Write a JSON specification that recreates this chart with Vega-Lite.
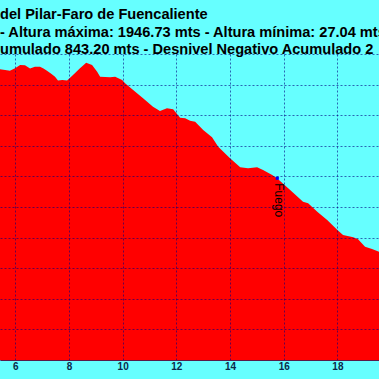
{
  "$schema": "https://vega.github.io/schema/vega-lite/v6.json",
  "width": 379,
  "height": 306,
  "autosize": {"type": "none"},
  "padding": {"left": 0, "top": 54, "right": 0, "bottom": 19},
  "background": "#66ffff",
  "config": {"view": {"stroke": null, "fill": "#66ffff"}},
  "title": {
    "text": ["\u00a0del Pilar-Faro de Fuencaliente", "- Altura máxima: 1946.73 mts - Altura mínima: 27.04 mts", "umulado 843.20 mts - Desnivel Negativo Acumulado 2"],
    "anchor": "start",
    "align": "left",
    "frame": "group",
    "font": "Liberation Sans",
    "fontSize": 14.6,
    "fontWeight": "bold",
    "color": "#000000",
    "lineHeight": 17.5,
    "offset": -3
  },
  "datasets": {
    "profile": [
      {"km": 5.3, "elev": 1895},
      {"km": 5.43, "elev": 1900},
      {"km": 5.62, "elev": 1896},
      {"km": 5.8, "elev": 1891},
      {"km": 5.99, "elev": 1907},
      {"km": 6.18, "elev": 1928},
      {"km": 6.36, "elev": 1926},
      {"km": 6.55, "elev": 1905},
      {"km": 6.73, "elev": 1917},
      {"km": 6.92, "elev": 1917},
      {"km": 7.05, "elev": 1905},
      {"km": 7.18, "elev": 1891},
      {"km": 7.35, "elev": 1870},
      {"km": 7.48, "elev": 1852},
      {"km": 7.59, "elev": 1826},
      {"km": 7.75, "elev": 1830},
      {"km": 7.93, "elev": 1826},
      {"km": 8.15, "elev": 1863},
      {"km": 8.41, "elev": 1907},
      {"km": 8.64, "elev": 1943},
      {"km": 8.86, "elev": 1928},
      {"km": 9.05, "elev": 1884},
      {"km": 9.16, "elev": 1852},
      {"km": 9.35, "elev": 1850},
      {"km": 9.53, "elev": 1848},
      {"km": 9.72, "elev": 1852},
      {"km": 9.98, "elev": 1830},
      {"km": 10.09, "elev": 1809},
      {"km": 10.39, "elev": 1765},
      {"km": 10.76, "elev": 1710},
      {"km": 11.13, "elev": 1656},
      {"km": 11.39, "elev": 1627},
      {"km": 11.65, "elev": 1645},
      {"km": 11.88, "elev": 1639},
      {"km": 12.14, "elev": 1584},
      {"km": 12.33, "elev": 1580},
      {"km": 12.51, "elev": 1564},
      {"km": 12.7, "elev": 1558},
      {"km": 13.0, "elev": 1503},
      {"km": 13.33, "elev": 1456},
      {"km": 13.56, "elev": 1394},
      {"km": 14.0, "elev": 1318},
      {"km": 14.38, "elev": 1260},
      {"km": 14.67, "elev": 1253},
      {"km": 15.01, "elev": 1260},
      {"km": 15.23, "elev": 1242},
      {"km": 15.57, "elev": 1209},
      {"km": 15.75, "elev": 1188},
      {"km": 16.24, "elev": 1111},
      {"km": 16.72, "elev": 1035},
      {"km": 16.91, "elev": 1024},
      {"km": 17.25, "elev": 969},
      {"km": 17.62, "elev": 915},
      {"km": 18.0, "elev": 850},
      {"km": 18.21, "elev": 817},
      {"km": 18.59, "elev": 802},
      {"km": 18.77, "elev": 789},
      {"km": 19.03, "elev": 741},
      {"km": 19.29, "elev": 725},
      {"km": 19.55, "elev": 708},
      {"km": 19.7, "elev": 700}
    ],
    "waypoints": [
      {"km": 15.76, "elev": 1188, "name": "Fuego"}
    ]
  },
  "layer": [
    {
      "data": {"name": "profile"},
      "mark": {"type": "area", "color": "#ff0000", "clip": true, "interpolate": "linear"},
      "encoding": {
        "x": {
          "field": "km",
          "type": "quantitative",
          "scale": {"domain": [5.43, 19.55], "nice": false, "zero": false},
          "axis": {
            "values": [4, 6, 8, 10, 12, 14, 16, 18, 20],
            "tickCount": 30,
            "format": "d",
            "title": null,
            "grid": true,
            "gridColor": "#000080",
            "gridOpacity": 0.6,
            "gridDash": [2, 2],
            "ticks": false,
            "labelFont": "Liberation Sans",
            "labelFontSize": 10,
            "labelFontWeight": "bold",
            "labelColor": "#0a2a4a",
            "labelPadding": 1,
            "domainColor": "#5a1a4a",
            "domainWidth": 1,
            "zindex": 1
          }
        },
        "y": {
          "field": "elev",
          "type": "quantitative",
          "scale": {"domain": [0, 2000], "nice": false},
          "axis": {
            "values": [0, 200, 400, 600, 800, 1000, 1200, 1400, 1600, 1800, 2000],
            "tickCount": 30,
            "title": null,
            "labels": false,
            "ticks": false,
            "domain": false,
            "grid": true,
            "gridColor": "#000080",
            "gridOpacity": 0.6,
            "gridDash": [2, 2],
            "zindex": 1
          }
        }
      }
    },
    {
      "data": {"name": "waypoints"},
      "mark": {"type": "point", "filled": true, "shape": "square", "size": 10, "color": "#0000ff", "opacity": 1},
      "encoding": {
        "x": {"field": "km", "type": "quantitative"},
        "y": {"field": "elev", "type": "quantitative"}
      }
    },
    {
      "data": {"name": "waypoints"},
      "mark": {"type": "text", "angle": 90, "align": "left", "baseline": "middle", "font": "Liberation Sans", "fontSize": 12, "color": "#000000", "dx": 5, "dy": -2},
      "encoding": {
        "x": {"field": "km", "type": "quantitative"},
        "y": {"field": "elev", "type": "quantitative"},
        "text": {"field": "name"}
      }
    }
  ]
}
